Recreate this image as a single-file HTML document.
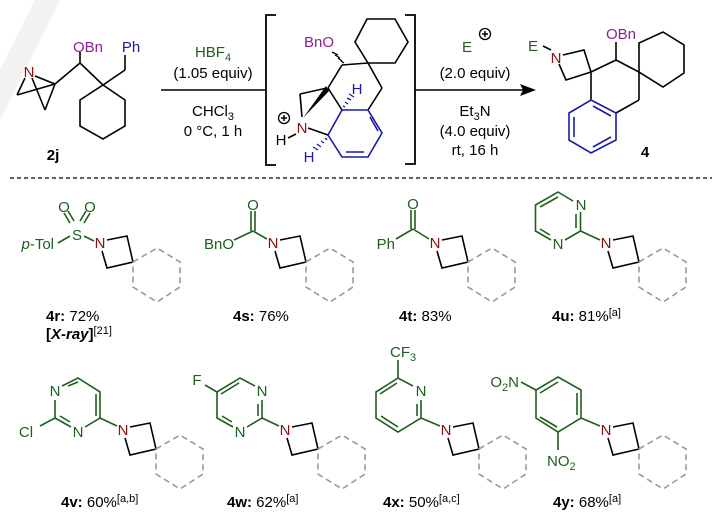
<!DOCTYPE html>
<html><head><meta charset="utf-8"><style>
html,body{margin:0;padding:0;background:#fff}
svg{display:block}
text{font-family:"Liberation Sans",sans-serif;font-size:15px}
.g{fill:#1e5e1e}.r{fill:#8b1010}.p{fill:#8b2291}.b{fill:#1a1aa8}.k{fill:#000}
</style></head><body>
<svg width="722" height="515" viewBox="0 0 722 515" xmlns="http://www.w3.org/2000/svg">
<defs>
<g id="az">
  <g stroke="#000" stroke-width="1.6" fill="none">
    <polyline points="7,-3 27,-7 33,19 7,25 2,8"/>
  </g>
  <polygon points="33,19 57,5 80,19 80,44 57,59 33,44" fill="none" stroke="#999" stroke-width="1.6" stroke-dasharray="6,4"/>
  <text x="0" y="5" class="r" text-anchor="middle">N</text>
</g>
</defs>
<polygon points="35,0 60,0 0,120 0,70" fill="#f2f2f2"/>

<!-- ===== 2j ===== -->
<g stroke="#000" stroke-width="1.6" fill="none">
  <line x1="35" y1="76" x2="55" y2="84"/>
  <line x1="25" y1="78" x2="17" y2="95"/>
  <line x1="17" y1="95" x2="55" y2="84"/>
  <line x1="32" y1="78" x2="45" y2="110"/>
  <line x1="45" y1="110" x2="55" y2="84"/>
  <line x1="55" y1="84" x2="80" y2="63"/>
  <line x1="80" y1="63" x2="80" y2="52"/>
  <line x1="80" y1="63" x2="103" y2="85"/>
  <line x1="103" y1="85" x2="125" y2="70"/>
  <line x1="125" y1="70" x2="125" y2="55"/>
  <polygon points="103,85 125,100 125,126 103,139 80,126 80,100"/>
</g>
<text x="29" y="77" class="r" text-anchor="middle">N</text>
<text x="88" y="52" class="p" text-anchor="middle">OBn</text>
<text x="131" y="52" class="b" text-anchor="middle">Ph</text>
<text x="53" y="160" class="k" text-anchor="middle" font-weight="bold">2j</text>

<!-- arrow 1 -->
<line x1="161" y1="90" x2="266" y2="90" stroke="#000" stroke-width="1.6"/>
<text x="213" y="57" class="g" text-anchor="middle">HBF<tspan font-size="11" dy="4">4</tspan></text>
<text x="213" y="78" class="k" text-anchor="middle">(1.05 equiv)</text>
<text x="213" y="116" class="k" text-anchor="middle">CHCl<tspan font-size="11" dy="4">3</tspan></text>
<text x="213" y="136" class="k" text-anchor="middle">0 °C, 1 h</text>

<!-- brackets -->
<polyline points="276,15 266,15 266,165 276,165" fill="none" stroke="#000" stroke-width="1.8"/>
<polyline points="405,15 415,15 415,164 405,164" fill="none" stroke="#000" stroke-width="1.8"/>

<!-- intermediate -->
<g stroke="#000" stroke-width="1.6" fill="none">
  <polygon points="367,19 395,19 408,42 395,63 368,63 355,42"/>
  <line x1="368" y1="63" x2="342" y2="65"/>
  <line x1="368" y1="63" x2="382" y2="88"/>
  <line x1="382" y1="88" x2="368" y2="110"/>
  <line x1="342" y1="65" x2="328" y2="88"/>
  <line x1="328" y1="88" x2="342" y2="110"/>
  <line x1="300" y1="94" x2="327" y2="88"/>
  <line x1="300" y1="94" x2="302" y2="117"/>
  <line x1="296" y1="134" x2="288" y2="138"/>
</g>
<polygon points="303,118 326,86 329,91" fill="#000"/>
<g stroke="#000" stroke-width="1.3">
  <line x1="341" y1="61" x2="344" y2="63"/><line x1="338" y1="58" x2="342" y2="61"/><line x1="335" y1="55" x2="340" y2="58"/><line x1="332" y1="52" x2="338" y2="55"/>
</g>
<g stroke="#1a1aa8" stroke-width="1.3">
  <line x1="343" y1="106" x2="345" y2="107"/><line x1="345" y1="102" x2="348" y2="104"/><line x1="347" y1="98" x2="351" y2="100"/><line x1="349" y1="94" x2="354" y2="97"/>
  <line x1="325" y1="138" x2="327" y2="140"/><line x1="321" y1="141" x2="324" y2="143"/><line x1="317" y1="144" x2="321" y2="147"/><line x1="313" y1="147" x2="318" y2="150"/>
</g>
<g stroke="#1a1aa8" stroke-width="1.6" fill="none">
  <polygon points="342,110 368,110 382,133 368,157 342,157 328,135"/>
  <line x1="370" y1="117" x2="378" y2="131"/>
  <line x1="346" y1="152" x2="364" y2="152"/>
</g>
<line x1="308" y1="128" x2="328" y2="135" stroke="#000" stroke-width="1.6"/>
<text x="334" y="47" class="p" text-anchor="end">BnO</text>
<text x="357" y="94" class="b" text-anchor="middle">H</text>
<text x="302" y="133" class="r" text-anchor="middle">N</text>
<text x="281" y="145" class="k" text-anchor="middle">H</text>
<text x="309" y="162" class="b" text-anchor="middle">H</text>
<circle cx="284" cy="118" r="5.5" fill="none" stroke="#000" stroke-width="1.3"/>
<path d="M281,118h6M284,115v6" stroke="#000" stroke-width="1.5"/>

<!-- arrow 2 -->
<line x1="415" y1="90" x2="525" y2="90" stroke="#000" stroke-width="1.6"/>
<polygon points="536,90 520,84 523,90 520,96" fill="#000"/>
<text x="467" y="52" class="g" text-anchor="middle">E</text>
<circle cx="485" cy="34" r="5.5" fill="none" stroke="#000" stroke-width="1.3"/>
<path d="M482,34h6M485,31v6" stroke="#000" stroke-width="1.5"/>
<text x="475" y="78" class="k" text-anchor="middle">(2.0 equiv)</text>
<text x="475" y="116" class="k" text-anchor="middle">Et<tspan font-size="11" dy="4">3</tspan><tspan dy="-4">N</tspan></text>
<text x="475" y="136" class="k" text-anchor="middle">(4.0 equiv)</text>
<text x="475" y="155" class="k" text-anchor="middle">rt, 16 h</text>

<!-- product 4 -->
<g stroke="#000" stroke-width="1.6" fill="none">
  <line x1="543" y1="46" x2="551" y2="50"/>
  <polyline points="563,55 584,50 591,72 566,80 559,64"/>
  <line x1="591" y1="72" x2="616" y2="60"/>
  <line x1="616" y1="60" x2="616" y2="42"/>
  <line x1="616" y1="60" x2="639" y2="72"/>
  <polygon points="639,72 639,43 663,32 684,45 684,73 663,87"/>
  <line x1="639" y1="72" x2="639" y2="100"/>
  <line x1="639" y1="100" x2="616" y2="113"/>
  <line x1="591" y1="72" x2="591" y2="100"/>
</g>
<g stroke="#1a1aa8" stroke-width="1.6" fill="none">
  <polygon points="591,100 616,113 616,140 591,153 569,140 569,113"/>
  <line x1="574" y1="117" x2="574" y2="137"/>
  <line x1="593" y1="147" x2="611" y2="137"/>
  <line x1="593" y1="106" x2="611" y2="116"/>
</g>
<text x="533" y="51" class="g" text-anchor="middle">E</text>
<text x="556" y="63" class="r" text-anchor="middle">N</text>
<text x="606" y="39" class="p">OBn</text>
<text x="645" y="157" class="k" text-anchor="middle" font-weight="bold">4</text>

<line x1="10" y1="178" x2="712" y2="178" stroke="#000" stroke-width="1.2" stroke-dasharray="4,3"/>

<use href="#az" x="100" y="243"/>
<use href="#az" x="273" y="243"/>
<use href="#az" x="435" y="243"/>
<use href="#az" x="606" y="243"/>
<use href="#az" x="123" y="430"/>
<use href="#az" x="285" y="430"/>
<use href="#az" x="446" y="430"/>
<use href="#az" x="606" y="430"/>

<g stroke="#1e5e1e" stroke-width="1.6" fill="none">
  <!-- 4r -->
  <line x1="58" y1="243" x2="70" y2="236"/>
  <line x1="84" y1="236" x2="94" y2="241"/>
  <line x1="70" y1="223" x2="64" y2="213"/><line x1="74" y1="221" x2="68" y2="211"/>
  <line x1="80" y1="221" x2="86" y2="211"/><line x1="84" y1="223" x2="90" y2="213"/>
  <!-- 4s -->
  <line x1="234" y1="240" x2="253" y2="231"/>
  <line x1="253" y1="231" x2="267" y2="239"/>
  <line x1="251" y1="231" x2="251" y2="211"/><line x1="255" y1="231" x2="255" y2="211"/>
  <!-- 4t -->
  <line x1="396" y1="239" x2="413" y2="229"/>
  <line x1="413" y1="229" x2="429" y2="239"/>
  <line x1="411" y1="229" x2="411" y2="210"/><line x1="415" y1="229" x2="415" y2="210"/>
  <!-- 4u -->
  <polyline points="573,201 558,192 535.5,205 535.5,231 551,240"/>
  <polyline points="565,240 580.5,231 580.5,212"/>
  <line x1="558" y1="197" x2="540" y2="207"/>
  <line x1="540" y1="229" x2="550" y2="235"/>
  <line x1="576" y1="214" x2="576" y2="228"/>
  <line x1="580.5" y1="231" x2="600" y2="240"/>
  <!-- 4v -->
  <polyline points="62,386 78,378 100,392 100,418 85,427"/>
  <polyline points="71,427 55,418 55,400"/>
  <line x1="96" y1="394" x2="96" y2="416"/>
  <line x1="68" y1="386" x2="78" y2="382"/>
  <line x1="60" y1="416" x2="70" y2="422"/>
  <line x1="100" y1="418" x2="117" y2="426"/>
  <line x1="55" y1="418" x2="40" y2="426"/>
  <!-- 4w -->
  <polyline points="255,386 240,378 217,392 217,418 233,427"/>
  <polyline points="247,427 262,418 262,400"/>
  <line x1="239" y1="383" x2="221" y2="394"/>
  <line x1="222" y1="416" x2="232" y2="422"/>
  <line x1="258" y1="404" x2="258" y2="416"/>
  <line x1="217" y1="392" x2="205" y2="385"/>
  <line x1="262" y1="418" x2="279" y2="426"/>
  <!-- 4x -->
  <polyline points="413,386 398,378 376,392 376,418 398,432 421,418 421,400"/>
  <line x1="397" y1="383" x2="380" y2="394"/>
  <line x1="381" y1="416" x2="398" y2="427"/>
  <line x1="417" y1="404" x2="417" y2="416"/>
  <line x1="398" y1="378" x2="398" y2="360"/>
  <line x1="421" y1="418" x2="440" y2="426"/>
  <!-- 4y -->
  <polygon points="558,377 581,390 581,418 558,432 536,418 536,390"/>
  <line x1="577" y1="393" x2="577" y2="415"/>
  <line x1="557" y1="427" x2="540" y2="417"/>
  <line x1="558" y1="382" x2="540" y2="393"/>
  <line x1="536" y1="390" x2="521" y2="382"/>
  <line x1="558" y1="432" x2="558" y2="450"/>
  <line x1="581" y1="418" x2="600" y2="426"/>
</g>
<text x="54" y="249" class="g" text-anchor="end"><tspan font-style="italic">p</tspan>-Tol</text>
<text x="77" y="240" class="g" text-anchor="middle">S</text>
<text x="64" y="212" class="g" text-anchor="middle">O</text>
<text x="90" y="212" class="g" text-anchor="middle">O</text>
<text x="234" y="249" class="g" text-anchor="end">BnO</text>
<text x="253" y="210" class="g" text-anchor="middle">O</text>
<text x="395" y="249" class="g" text-anchor="end">Ph</text>
<text x="413" y="209" class="g" text-anchor="middle">O</text>
<text x="581" y="210" class="g" text-anchor="middle">N</text>
<text x="558" y="249" class="g" text-anchor="middle">N</text>
<text x="55" y="396" class="g" text-anchor="middle">N</text>
<text x="78" y="437" class="g" text-anchor="middle">N</text>
<text x="26" y="437" class="g" text-anchor="middle">Cl</text>
<text x="262" y="396" class="g" text-anchor="middle">N</text>
<text x="240" y="437" class="g" text-anchor="middle">N</text>
<text x="197" y="385" class="g" text-anchor="middle">F</text>
<text x="421" y="396" class="g" text-anchor="middle">N</text>
<text x="390" y="357" class="g">CF<tspan font-size="11" dy="4">3</tspan></text>
<text x="519" y="387" class="g" text-anchor="end">O<tspan font-size="11" dy="4">2</tspan><tspan dy="-4">N</tspan></text>
<text x="547" y="466" class="g">NO<tspan font-size="11" dy="4">2</tspan></text>

<g class="k">
<text x="46" y="321"><tspan font-weight="bold">4r:</tspan> 72%</text>
<text x="46" y="339" font-weight="bold">[<tspan font-style="italic">X-ray</tspan>]<tspan font-weight="normal" font-size="11" dy="-5">[21]</tspan></text>
<text x="233" y="321"><tspan font-weight="bold">4s:</tspan> 76%</text>
<text x="399" y="321"><tspan font-weight="bold">4t:</tspan> 83%</text>
<text x="552" y="321"><tspan font-weight="bold">4u:</tspan> 81%<tspan font-size="11" dy="-5">[a]</tspan></text>
<text x="61" y="507"><tspan font-weight="bold">4v:</tspan> 60%<tspan font-size="11" dy="-5">[a,b]</tspan></text>
<text x="227" y="507"><tspan font-weight="bold">4w:</tspan> 62%<tspan font-size="11" dy="-5">[a]</tspan></text>
<text x="383" y="507"><tspan font-weight="bold">4x:</tspan> 50%<tspan font-size="11" dy="-5">[a,c]</tspan></text>
<text x="553" y="507"><tspan font-weight="bold">4y:</tspan> 68%<tspan font-size="11" dy="-5">[a]</tspan></text>
</g>
</svg>
</body></html>
